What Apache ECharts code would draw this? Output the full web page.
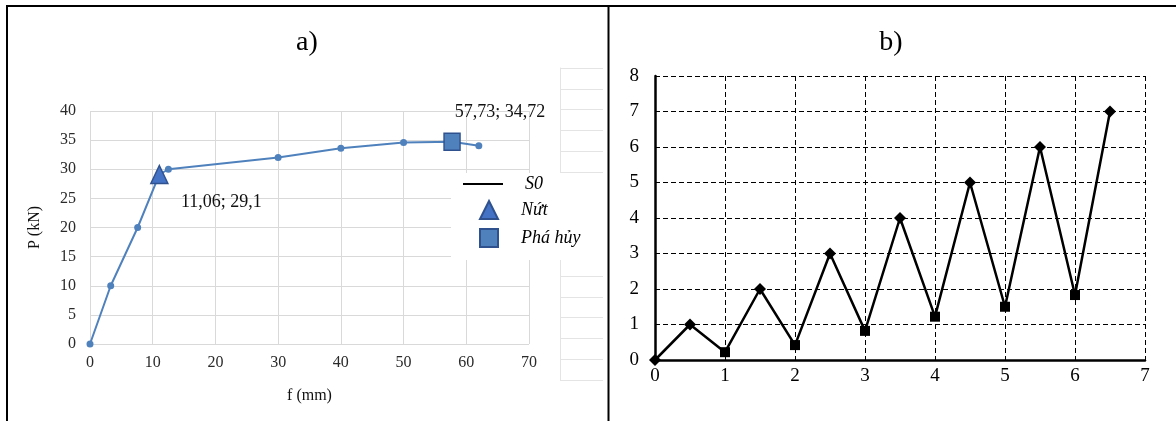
<!DOCTYPE html>
<html>
<head>
<meta charset="utf-8">
<script src="https://cdn.jsdelivr.net/npm/echarts@6/dist/echarts.min.js"></script>
<style>
  html, body { margin: 0; padding: 0; background: #fff; }
  #chart { width: 1176px; height: 421px; }
</style>
</head>
<body>
<div id="chart"></div>
<script>
// ---- Panel a) data ----
const titleA = 'a)';
const titleB = 'b)';
const aF = [0, 3.3, 7.6, 11.06, 12.5, 30, 40, 50, 57.73, 62];      // f (mm)
const aP = [0, 10, 20, 29.1, 30, 32, 33.6, 34.6, 34.72, 34.05];     // P (kN)
const crackF = [11.06];
const crackP = [29.1];
const failF = [57.73];
const failP = [34.72];
const seriesNames = ['S0', 'Nứt', 'Phá hủy'];
const axisNamesA = ['f (mm)', 'P (kN)'];

// ---- Panel b) data ----
const bX = [0, 0.5, 1, 1.5, 2, 2.5, 3, 3.5, 4, 4.5, 5, 5.5, 6, 6.5];
const bY = [0, 1, 0.22, 2, 0.42, 3, 0.82, 4, 1.22, 5, 1.5, 6, 1.83, 7];

const zip = (xs, ys) => xs.map((x, i) => [x, ys[i]]);
const comma = v => String(v).replace('.', ',');
const SERIF = '"Liberation Serif", "DejaVu Serif", serif';

const chart = echarts.init(document.getElementById('chart'), null, { renderer: 'canvas' });

const gridGray = '#d9d9d9';
const option = {
  animation: false,
  backgroundColor: '#fff',
  textStyle: { fontFamily: SERIF },
  grid: [
    { left: 90, top: 111, width: 439, height: 233 },
    { left: 655, top: 76, width: 490, height: 284 },
    { left: 560, top: 68, width: 43, height: 312 }
  ],
  xAxis: [
    {
      gridIndex: 0, type: 'value', min: 0, max: 70, interval: 10,
      axisLine: { show: false }, axisTick: { show: false },
      splitLine: { show: true, lineStyle: { color: gridGray, width: 1 } },
      axisLabel: { margin: 11, fontSize: 16, color: '#2a2a2a', fontFamily: SERIF },
      name: axisNamesA[0], nameLocation: 'middle', nameGap: 44,
      nameTextStyle: { fontSize: 16, color: '#111', fontFamily: SERIF }
    },
    {
      gridIndex: 1, type: 'value', min: 0, max: 7, interval: 1,
      axisLine: { show: true, onZero: false, lineStyle: { color: '#000', width: 2.5 } },
      axisTick: { show: false },
      splitLine: { show: true, lineStyle: { color: '#000', width: 1, type: [5, 3] } },
      axisLabel: { margin: 7, fontSize: 19, color: '#000', fontFamily: SERIF }
    },
    { gridIndex: 2, type: 'value', min: 0, max: 1, show: false }
  ],
  yAxis: [
    {
      gridIndex: 0, type: 'value', min: 0, max: 40, interval: 5,
      axisLine: { show: false }, axisTick: { show: false },
      splitLine: { show: true, lineStyle: { color: gridGray, width: 1 } },
      axisLabel: { margin: 14, fontSize: 16, color: '#2a2a2a', fontFamily: SERIF },
      name: axisNamesA[1], nameLocation: 'middle', nameGap: 47, nameRotate: 90,
      nameTextStyle: { fontSize: 16, color: '#111', fontFamily: SERIF }
    },
    {
      gridIndex: 1, type: 'value', min: 0, max: 8, interval: 1,
      axisLine: { show: true, onZero: false, lineStyle: { color: '#000', width: 2.5 } },
      axisTick: { show: false },
      splitLine: { show: true, lineStyle: { color: '#000', width: 1, type: [5, 3] } },
      axisLabel: { margin: 16, fontSize: 19, color: '#000', fontFamily: SERIF }
    },
    {
      gridIndex: 2, type: 'value', min: 0, max: 15, interval: 1,
      axisLine: { show: true, lineStyle: { color: '#e4e4e4', width: 1 } },
      axisTick: { show: false }, axisLabel: { show: false },
      splitLine: { show: true, lineStyle: { color: '#e4e4e4', width: 1 } }
    }
  ],
  legend: [
    {
      data: [{ name: seriesNames[0], icon: 'rect', itemStyle: { color: '#000', borderWidth: 0 } }],
      left: 451, top: 173, padding: [2, 61, 67, 12],
      itemWidth: 40, itemHeight: 2,
      backgroundColor: '#fff',
      selectedMode: false,
      textStyle: { fontSize: 18, fontStyle: 'italic', color: '#000', fontFamily: SERIF, padding: [4, 0, 0, 17] }
    },
    {
      data: [{ name: seriesNames[1], icon: 'triangle' }, { name: seriesNames[2], icon: 'rect' }],
      orient: 'vertical', left: 479, top: 200, padding: 0,
      itemWidth: 18, itemHeight: 18, itemGap: 8, z: 6,
      selectedMode: false,
      textStyle: { fontSize: 18, fontStyle: 'italic', color: '#000', fontFamily: SERIF, padding: [3, 0, 0, 18] }
    }
  ],
  graphic: [
    { type: 'line', shape: { x1: 6, y1: 6, x2: 1176, y2: 6 }, style: { stroke: '#000', lineWidth: 2 }, z: 100 },
    { type: 'line', shape: { x1: 7, y1: 6, x2: 7, y2: 421 }, style: { stroke: '#000', lineWidth: 2 }, z: 100 },
    { type: 'line', shape: { x1: 608.5, y1: 6, x2: 608.5, y2: 421 }, style: { stroke: '#000', lineWidth: 2 }, z: 100 },
    { type: 'text', x: 307, y: 43, style: { text: titleA, textAlign: 'center', textVerticalAlign: 'middle', font: '28px ' + SERIF, fill: '#000' } },
    { type: 'text', x: 891, y: 43, style: { text: titleB, textAlign: 'center', textVerticalAlign: 'middle', font: '28px ' + SERIF, fill: '#000' } }
  ],
  series: [
    {
      name: seriesNames[0], type: 'line', xAxisIndex: 0, yAxisIndex: 0,
      data: zip(aF, aP),
      symbol: 'circle', symbolSize: 7,
      itemStyle: { color: '#4f81bd' },
      lineStyle: { color: '#4f81bd', width: 2 },
      z: 2
    },
    {
      name: seriesNames[1], type: 'scatter', xAxisIndex: 0, yAxisIndex: 0,
      data: zip(crackF, crackP),
      symbol: 'triangle', symbolSize: [17, 18],
      itemStyle: { color: '#4472c4', borderColor: '#2f528f', borderWidth: 1.5, opacity: 1 },
      label: {
        show: true, position: 'inside', offset: [62, 28],
        formatter: p => comma(p.value[0]) + '; ' + comma(p.value[1]),
        fontSize: 18, color: '#111', fontFamily: SERIF
      },
      z: 3
    },
    {
      name: seriesNames[2], type: 'scatter', xAxisIndex: 0, yAxisIndex: 0,
      data: zip(failF, failP),
      symbol: 'rect', symbolSize: [16, 17],
      itemStyle: { color: '#4f81bd', borderColor: '#2f528f', borderWidth: 1.5, opacity: 1 },
      label: {
        show: true, position: 'inside', offset: [48, -29],
        formatter: p => comma(p.value[0]) + '; ' + comma(p.value[1]),
        fontSize: 18, color: '#111', fontFamily: SERIF
      },
      z: 3
    },
    {
      name: 'b', type: 'line', xAxisIndex: 1, yAxisIndex: 1,
      data: zip(bX, bY),
      symbol: (v, p) => (p.dataIndex > 0 && p.dataIndex % 2 === 0) ? 'rect' : 'diamond',
      symbolSize: (v, p) => (p.dataIndex > 0 && p.dataIndex % 2 === 0) ? 10 : 12,
      itemStyle: { color: '#000' },
      lineStyle: { color: '#000', width: 2.5 },
      z: 3
    }
  ]
};
chart.setOption(option);
</script>
</body>
</html>
